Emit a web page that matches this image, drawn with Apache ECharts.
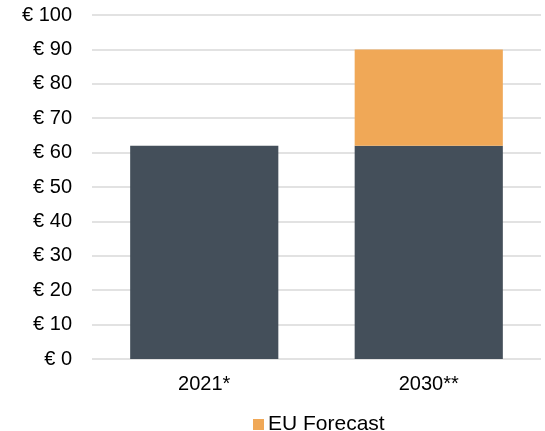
<!DOCTYPE html>
<html>
<head>
<meta charset="utf-8">
<script src="https://cdn.jsdelivr.net/npm/echarts@6/dist/echarts.min.js"></script>
<style>
  html, body { margin: 0; padding: 0; background: #fff; }
  #chart { width: 545px; height: 431px; }
</style>
</head>
<body>
<div id="chart"></div>
<script>
// Price per category, split into the current base and the EU forecast increase
const categories = ['2021*', '2030**'];
const baseValues = [62, 62];
const forecastValues = [null, 28];
const yTicks = [0, 10, 20, 30, 40, 50, 60, 70, 80, 90, 100];

const font = '"Liberation Sans", Arial, sans-serif';

const chart = echarts.init(document.getElementById('chart'), null, { renderer: 'canvas' });
chart.setOption({
  animation: false,
  grid: { left: 92, right: 4, top: 15, bottom: 72, containLabel: false },
  legend: {
    data: ['EU Forecast'],
    left: 248,
    top: 409,
    itemWidth: 11,
    itemHeight: 11,
    itemGap: 4,
    icon: 'rect',
    textStyle: { fontFamily: font, fontSize: 21, color: '#000', padding: [0, 0, 0, -1] }
  },
  xAxis: {
    type: 'category',
    data: categories,
    axisLine: { show: false },
    axisTick: { show: false },
    axisLabel: { fontFamily: font, fontSize: 20, color: '#000', margin: 15 }
  },
  yAxis: {
    type: 'value',
    min: yTicks[0],
    max: yTicks[yTicks.length - 1],
    interval: 10,
    axisLine: { show: false },
    axisTick: { show: false },
    splitLine: { lineStyle: { color: '#d9d9d9', width: 1.5 } },
    axisLabel: {
      fontFamily: font, fontSize: 20, color: '#000', margin: 20,
      formatter: v => '€ ' + v
    }
  },
  series: [
    {
      name: 'Base',
      type: 'bar',
      stack: 'price',
      data: baseValues,
      barWidth: '66%',
      itemStyle: { color: '#444f5a' }
    },
    {
      name: 'EU Forecast',
      type: 'bar',
      stack: 'price',
      data: forecastValues,
      barWidth: '66%',
      itemStyle: { color: '#f0a857' }
    }
  ]
});
</script>
</body>
</html>
